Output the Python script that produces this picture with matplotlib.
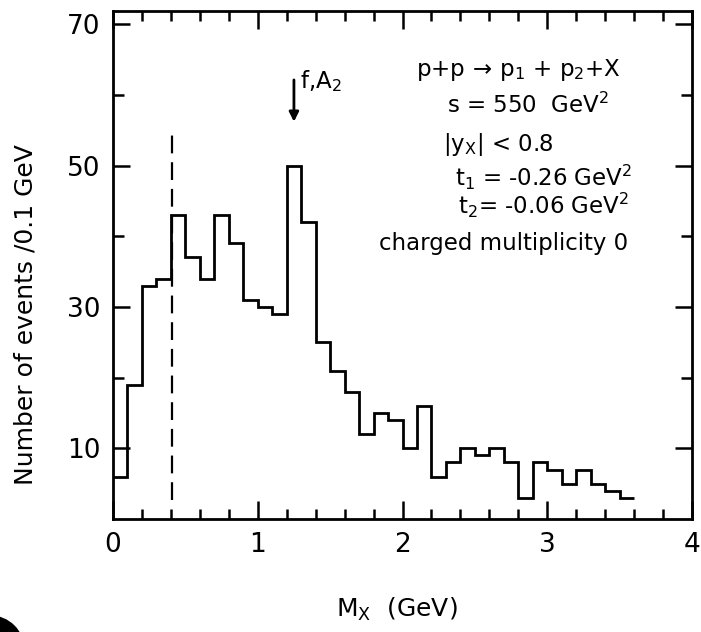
import matplotlib
matplotlib.use("Agg")
import matplotlib.pyplot as plt
from matplotlib.patches import Ellipse
import numpy as np

# ---- data ----
bin_width = 0.1
counts = [6, 19, 33, 34, 43, 37, 34, 43, 39, 31, 30, 29, 50, 42, 25, 21, 18, 12,
          15, 14, 10, 16, 6, 8, 10, 9, 10, 8, 3, 8, 7, 5, 7, 5, 4, 3]
edges = np.round(np.arange(len(counts) + 1) * bin_width, 3)

dashed_x = 0.41
dashed_y = [2.7, 55]
arrow_x = 1.25
arrow_y = [62.5, 55.8]

x_major = [0, 1, 2, 3, 4]
y_labeled = [10, 30, 50, 70]
y_unlabeled = [20, 40, 60]

info_lines = [
    (2.09, 62.7, r"p+p$\,\rightarrow\,$p$_\mathregular{1}$ + p$_\mathregular{2}$+X"),
    (2.31, 57.5, r"s = 550  GeV$^\mathregular{2}$"),
    (2.28, 52.1, r"$|\mathregular{y_X}|$ < 0.8"),
    (2.36, 47.1, r"t$_\mathregular{1}$ = -0.26 GeV$^\mathregular{2}$"),
    (2.38, 43.2, r"t$_\mathregular{2}$= -0.06 GeV$^\mathregular{2}$"),
    (1.84, 38.0, "charged multiplicity 0"),
]

plt.rcParams['font.family'] = ['DejaVu Sans']
plt.rcParams['mathtext.fontset'] = 'dejavusans'

fig = plt.figure(figsize=(7.01, 6.32), dpi=100)
ax = fig.add_axes([113/701, 1 - 519/632, (692 - 113)/701, (519 - 10.7)/632])

ax.stairs(counts, edges, baseline=None, color='black', linewidth=2.0)
ax.plot([dashed_x, dashed_x], dashed_y, color='black', linewidth=1.6,
        dashes=(8, 4))
ax.annotate("", xy=(arrow_x, arrow_y[1]), xytext=(arrow_x, arrow_y[0]),
            arrowprops=dict(arrowstyle='-|>', color='black', lw=2.0,
                            mutation_scale=14))
ax.text(1.29, 61.0, r"f,A$_\mathregular{2}$", fontsize=16.5, ha='left',
        va='baseline')

for x, y, s in info_lines:
    ax.text(x, y, s, fontsize=16.5, ha='left', va='baseline')

ax.set_xlim(0, 4)
ax.set_ylim(0, 71.9)

ax.set_xticks(x_major)
ax.set_xticks(np.arange(0, 4.01, 0.2), minor=True)
ax.set_yticks(y_labeled)
ax.set_yticks(y_unlabeled, minor=True)
ax.tick_params(which='both', direction='in', top=True, right=True,
               width=1.8, color='black', labelsize=19, pad=9)
ax.tick_params(which='major', axis='x', length=13)
ax.tick_params(which='minor', axis='x', length=7)
ax.tick_params(which='major', axis='y', length=12)
ax.tick_params(which='minor', axis='y', length=8)

for sp in ax.spines.values():
    sp.set_linewidth(2.0)
    sp.set_color('black')

ax.set_xlabel(r"M$_\mathregular{X}$  (GeV)", fontsize=18)
ax.set_ylabel("Number of events /0.1 GeV", fontsize=18)
ax.xaxis.set_label_coords((397 - 113) / 579, -(596 - 519) / 508)
ax.yaxis.set_label_coords((38 - 113) / 579, (519 - 315) / 508)

fig.add_artist(Ellipse((-10/701, 1 - 650/632), width=68/701, height=68/632,
                       transform=fig.transFigure, color='black'))

fig.savefig("out.png", dpi=100)
